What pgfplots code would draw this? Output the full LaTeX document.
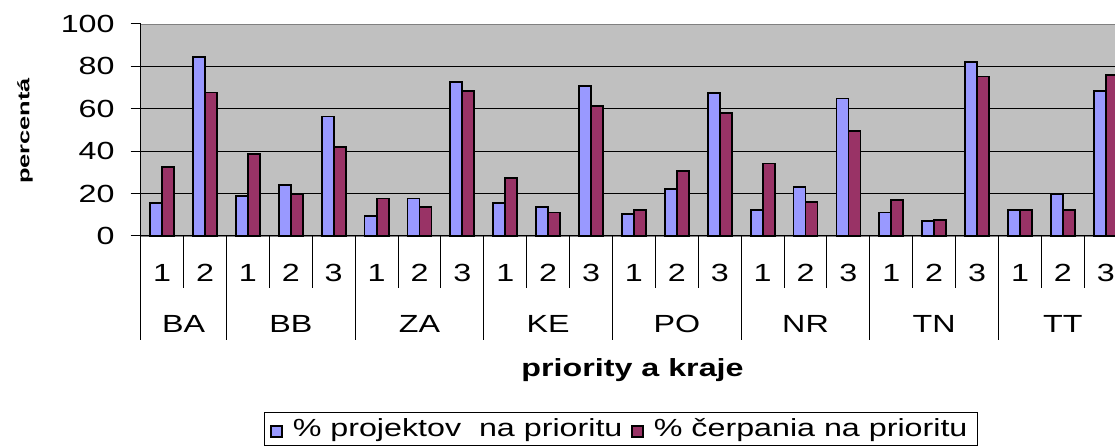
\documentclass[border=0pt]{standalone}
\usepackage{fontspec}
\setmainfont{Liberation Sans}[FakeStretch=1.3]
\newfontfamily\ylabfont{Liberation Sans}[FakeStretch=1.55]
\usepackage{pgfplots}
\pgfplotsset{compat=1.18}
\definecolor{barblue}{HTML}{9999FF}
\definecolor{barred}{HTML}{993366}
\definecolor{plotbg}{HTML}{C0C0C0}
\newcommand{\mf}{\fontsize{12.4pt}{14pt}\selectfont}
\begin{document}
\begin{tikzpicture}[font=\mf]
\useasboundingbox (0,0) rectangle (557.5pt,224pt);
\begin{scope}[overlay]
\clip (0,0) rectangle (557.5pt,224pt);
\begin{axis}[
  at={(70.35pt,106pt)}, anchor=south west,
  scale only axis, width=493.25pt, height=106pt,
  xmin=-0.5, xmax=22.5, ymin=0, ymax=100,
  clip=false,
  axis x line=bottom, axis y line=left,
  axis line style={-, black, line width=0.5pt},
  xtick=\empty,
  ytick={0,20,40,60,80},
  extra y ticks={100},
  extra y tick style={grid=none},
  ymajorgrids,
  grid style={black, line width=0.5pt},
  tick align=outside,
  major tick length=5pt,
  tick style={black, line width=0.5pt},
  yticklabel style={anchor=east, inner sep=0pt, xshift=-7.85pt, font=\mf},
  /pgf/number format/assume math mode=true,
  axis background/.style={fill=plotbg, draw=gray},
  ybar, bar width=0.28,
  legend columns=2,
  legend style={at={(0.4868,-0.8288)}, anchor=north, draw=black, line width=0.5pt,
    font=\mf, inner xsep=3pt, inner ysep=1pt,
    /tikz/every even column/.append style={column sep=2.5pt}},
]
\addplot[fill=barblue, draw=black, line width=0.9pt, bar shift=-0.14,
  legend image code/.code={\draw[fill=barblue, draw=black, line width=0.7pt] (0pt,-4.2pt) rectangle (5.5pt,1.3pt);}]
coordinates {
(0,15.4) (1,84.5) (2,18.8) (3,24.0) (4,56.4) (5,9.4) (6,17.7) (7,72.7)
(8,15.4) (9,13.6) (10,70.8) (11,10.2) (12,22.1) (13,67.6) (14,12.1) (15,23.0)
(16,64.9) (17,11.1) (18,6.9) (19,82.0) (20,12.1) (21,19.9) (22,68.5)};
\addlegendentry{\hspace{3pt}\% projektov~~na prioritu\rule[-16pt]{0pt}{1pt}}
\addplot[fill=barred, draw=black, line width=0.9pt, bar shift=0.14,
  legend image code/.code={\draw[fill=barred, draw=black, line width=0.7pt] (0pt,-4.2pt) rectangle (5.5pt,1.3pt);}]
coordinates {
(0,32.6) (1,67.7) (2,38.6) (3,19.7) (4,41.8) (5,17.7) (6,13.6) (7,68.3)
(8,27.4) (9,11.1) (10,61.4) (11,12.1) (12,30.7) (13,58.0) (14,34.2) (15,16.1)
(16,49.5) (17,17.1) (18,7.5) (19,75.2) (20,12.1) (21,12.1) (22,76.0)};
\addlegendentry{\hspace{3pt}\% čerpania na prioritu\rule[-16pt]{0pt}{1pt}}
\pgfplotsinvokeforeach{0.5,2.5,3.5,5.5,6.5,8.5,9.5,11.5,12.5,14.5,15.5,17.5,18.5,20.5,21.5}{
  \draw[black, line width=0.5pt] (axis cs:#1,0) -- ++(0pt,-26.15pt);
}
\pgfplotsinvokeforeach{-0.5,1.5,4.5,7.5,10.5,13.5,16.5,19.5,22.5}{
  \draw[black, line width=0.5pt] (axis cs:#1,0) -- ++(0pt,-52pt);
}
\pgfplotsinvokeforeach{0,2,5,8,11,14,17,20}{
  \node[anchor=base, inner sep=0pt, yshift=-22.85pt] at (axis cs:#1,0) {1};
}
\pgfplotsinvokeforeach{1,3,6,9,12,15,18,21}{
  \node[anchor=base, inner sep=0pt, yshift=-22.85pt] at (axis cs:#1,0) {2};
}
\pgfplotsinvokeforeach{4,7,10,13,16,19,22}{
  \node[anchor=base, inner sep=0pt, yshift=-22.85pt] at (axis cs:#1,0) {3};
}
\node[anchor=base, inner sep=0pt, yshift=-48.15pt] at (axis cs:0.5,0) {BA};
\node[anchor=base, inner sep=0pt, yshift=-48.15pt] at (axis cs:3,0) {BB};
\node[anchor=base, inner sep=0pt, yshift=-48.15pt] at (axis cs:6,0) {ZA};
\node[anchor=base, inner sep=0pt, yshift=-48.15pt] at (axis cs:9,0) {KE};
\node[anchor=base, inner sep=0pt, yshift=-48.15pt] at (axis cs:12,0) {PO};
\node[anchor=base, inner sep=0pt, yshift=-48.15pt] at (axis cs:15,0) {NR};
\node[anchor=base, inner sep=0pt, yshift=-48.15pt] at (axis cs:18,0) {TN};
\node[anchor=base, inner sep=0pt, yshift=-48.15pt] at (axis cs:21,0) {TT};
\end{axis}
\node[anchor=base, inner sep=0pt] at (316.25pt,35.65pt) {\bfseries priority a kraje};
\node[rotate=90, inner sep=0pt] at (12.5pt,158.5pt) {\ylabfont\fontsize{8.2pt}{10pt}\selectfont\bfseries percentá};
\end{scope}
\end{tikzpicture}
\end{document}
